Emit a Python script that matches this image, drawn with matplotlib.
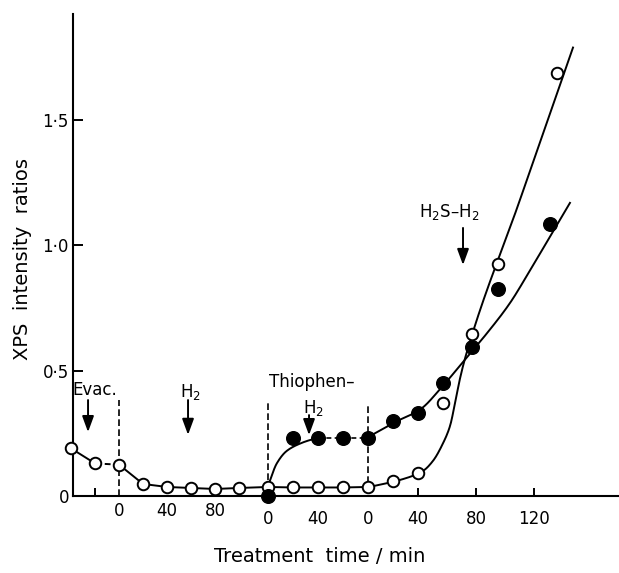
import numpy as np
import matplotlib.pyplot as plt

plt.rcParams['font.family'] = ['DejaVu Sans']
plt.rcParams['mathtext.default'] = 'regular'

# measured points: time within each treatment step (min), XPS intensity ratio
evac_t = [-40, -20, 0]
evac_open = [0.19, 0.13, 0.125]

h2_t = [20, 40, 60, 80, 100]
h2_open = [0.048, 0.036, 0.032, 0.028, 0.032]

thio_t = [0, 20, 40, 60, 80]
thio_open = [0.036, 0.034, 0.034, 0.034, 0.036]
thio_filled = [0.0, 0.232, 0.232, 0.232, 0.232]

h2s_open_t = [20, 40, 57, 77, 95, 136]
h2s_open = [0.06, 0.09, 0.37, 0.645, 0.925, 1.69]
h2s_filled_t = [20, 40, 57, 77, 95, 131]
h2s_filled = [0.30, 0.33, 0.45, 0.595, 0.825, 1.085]

# hand drawn guide curves (time, value)
thio_curve_t = [0, 7, 15, 26, 34, 40]
thio_curve_v = [0.04, 0.13, 0.18, 0.21, 0.224, 0.232]
open_curve_t = [0, 25.6, 43.4, 50.3, 57.2, 62.1, 65.5, 69.0, 73.1, 110.3, 146.9]
open_curve_v = [0.035, 0.064, 0.10, 0.14, 0.21, 0.28, 0.37, 0.47, 0.563, 1.182, 1.79]
filled_curve_t = [0, 21.6, 41.4, 57.2, 73.1, 87.6, 103.4, 117.2, 131.0, 144.8]
filled_curve_v = [0.235, 0.295, 0.345, 0.44, 0.55, 0.65, 0.77, 0.90, 1.035, 1.17]


# each treatment step has its own stretch of the x axis
def pos_a(t):  # evacuation and H2
    return 119 + 1.2 * np.asarray(t, float)


def pos_b(t):  # thiophene-H2
    return 268 + 1.25 * np.asarray(t, float)


def pos_c(t):  # H2S-H2
    t = np.asarray(t, float)
    return np.where(t <= 120, np.interp(t, [0, 40, 80, 120], [368, 418, 476, 534]),
                    534 + (t - 120) * 58 / 40)


def smooth(x, y, n=300):
    # monotone cubic through the guide points
    x = np.asarray(x, float)
    y = np.asarray(y, float)
    h = np.diff(x)
    d = np.diff(y) / h
    m = np.zeros_like(y)
    m[0], m[-1] = d[0], d[-1]
    for k in range(1, len(x) - 1):
        if d[k - 1] * d[k] > 0:
            w1 = 2 * h[k] + h[k - 1]
            w2 = h[k] + 2 * h[k - 1]
            m[k] = (w1 + w2) / (w1 / d[k - 1] + w2 / d[k])
    xs = np.linspace(x[0], x[-1], n)
    i = np.clip(np.searchsorted(x, xs) - 1, 0, len(h) - 1)
    s = (xs - x[i]) / h[i]
    ys = ((2 * s**3 - 3 * s**2 + 1) * y[i] + (s**3 - 2 * s**2 + s) * h[i] * m[i]
          + (-2 * s**3 + 3 * s**2) * y[i + 1] + (s**3 - s**2) * h[i] * m[i + 1])
    return xs, ys


fig = plt.figure(figsize=(6.19, 5.73), dpi=100)
ax = fig.add_axes([0.118, 0.1344, 0.882, 0.8412])
ax.set_xlim(73, 619)
ax.set_ylim(0, 1.924)

lw = 1.4
open_kw = dict(marker='o', ms=8.3, mfc='white', mec='black', mew=1.4, ls='none', zorder=5, clip_on=False)
fill_kw = dict(marker='o', ms=9.8, mfc='black', mec='black', ls='none', zorder=5, clip_on=False)

# open circles, first three steps joined point to point
ox = np.concatenate([pos_a(evac_t), pos_a(h2_t), pos_b(thio_t)])
oy = np.concatenate([evac_open, h2_open, thio_open])
ax.plot(ox[:2], oy[:2], color='black', lw=lw, zorder=3)
ax.plot(ox[1:3], oy[1:3], color='black', lw=lw, dashes=(3, 2), zorder=3)
ax.plot(ox[2:], oy[2:], color='black', lw=lw, zorder=3)

# guide curves, smoothed along the drawn x axis
cx, cv = smooth(pos_c(open_curve_t), open_curve_v)
ax.plot(cx, cv, color='black', lw=lw, zorder=3)
cx, cv = smooth(pos_c(filled_curve_t), filled_curve_v)
ax.plot(cx, cv, color='black', lw=lw, zorder=3)
cx, cv = smooth(pos_b(thio_curve_t), thio_curve_v)
ax.plot(cx, cv, color='black', lw=lw, zorder=3)
ax.plot(pos_b(thio_t[2:]), thio_filled[2:], color='black', lw=1.2, dashes=(3, 2), zorder=3)

ax.plot(ox, oy, **open_kw)
ax.plot(pos_c(h2s_open_t), h2s_open, **open_kw)
ax.plot(pos_b(thio_t), thio_filled, **fill_kw)
ax.plot(pos_c(h2s_filled_t), h2s_filled, **fill_kw)

# step boundaries
dash_kw = dict(color='black', lw=1.2, dashes=(4, 2), zorder=2)
ax.plot([pos_a(0), pos_a(0)], [0.0, 0.383], **dash_kw)
ax.plot([pos_b(0), pos_b(0)], [0.064, 0.383], **dash_kw)
ax.plot([pos_b(80), pos_b(80)], [0.05, 0.371], **dash_kw)

# step labels and arrows
arrow = dict(arrowstyle='-|>,head_length=0.6,head_width=0.22', color='black', lw=1.4,
             mutation_scale=16, shrinkA=0, shrinkB=0)
fs = 12
ax.text(72, 0.403, 'Evac.', fontsize=fs, ha='left', va='baseline')
ax.annotate('', xy=(88, 0.255), xytext=(88, 0.383), arrowprops=arrow)
ax.text(190, 0.395, 'H$_2$', fontsize=fs, ha='center', va='baseline')
ax.annotate('', xy=(188, 0.244), xytext=(188, 0.383), arrowprops=arrow)
ax.text(269, 0.435, 'Thiophen\u2013', fontsize=fs, ha='left', va='baseline')
ax.text(303, 0.331, 'H$_2$', fontsize=fs, ha='left', va='baseline')
ax.annotate('', xy=(309, 0.243), xytext=(309, 0.323), arrowprops=arrow)
ax.text(419, 1.114, 'H$_2$S\u2013H$_2$', fontsize=fs, ha='left', va='baseline')
ax.annotate('', xy=(463, 0.922), xytext=(463, 1.07), arrowprops=arrow)

# axes
for side in ['top', 'right']:
    ax.spines[side].set_visible(False)
ax.spines['left'].set_linewidth(1.5)
ax.spines['bottom'].set_linewidth(1.5)

ax.set_yticks([0, 0.5, 1.0, 1.5])
ax.set_yticklabels(['0', '0\u00b75', '1\u00b70', '1\u00b75'], fontsize=fs)
ax.tick_params(axis='y', direction='in', length=7, width=1.4, pad=3)
ax.yaxis.get_major_ticks()[0].tick1line.set_visible(False)

tick_pos = np.concatenate([pos_a([-20]), pos_c([40, 80, 120])])
ax.set_xticks(tick_pos)
ax.set_xticklabels([])
ax.tick_params(axis='x', direction='in', length=6, width=1.4)

row1 = [(pos_a(0), '0'), (pos_a(40), '40'), (pos_a(80), '80')]
row2 = [(pos_b(0), '0'), (pos_b(40), '40'), (pos_c(0), '0'),
        (pos_c(40), '40'), (pos_c(80), '80'), (pos_c(120), '120')]
for x, s in row1:
    ax.annotate(s, xy=(x, 0), xycoords=('data', 'axes fraction'), xytext=(0, -4),
                textcoords='offset points', ha='center', va='top', fontsize=fs)
for x, s in row2:
    ax.annotate(s, xy=(x, 0), xycoords=('data', 'axes fraction'), xytext=(0, -10),
                textcoords='offset points', ha='center', va='top', fontsize=fs)

fig.text(23 / 619, 1 - 259 / 573, 'XPS  intensity  ratios', rotation=90, fontsize=14,
         ha='center', va='center')
fig.text(320 / 619, 1 - 556 / 573, 'Treatment  time / min', fontsize=14,
         ha='center', va='center')

fig.savefig('out.png', dpi=100)
